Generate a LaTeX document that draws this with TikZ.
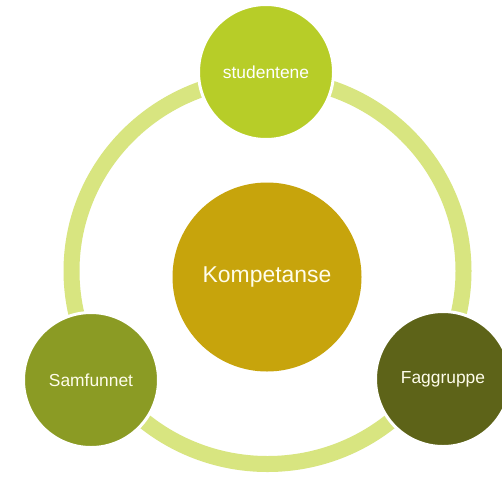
\documentclass[tikz,border=0pt]{standalone}
\usepackage{fontspec}
\setmainfont{Liberation Sans}
\definecolor{ringc}{RGB}{216,229,128}
\definecolor{topc}{RGB}{183,205,40}
\definecolor{midc}{RGB}{199,164,12}
\definecolor{leftc}{RGB}{139,155,36}
\definecolor{rightc}{RGB}{93,99,24}
\definecolor{txtc}{RGB}{255,253,235}
\tikzset{
  outer/.style={circle, draw=white, line width=3pt, minimum size=135pt, inner sep=0pt,
    text=txtc, font=\fontsize{17.4pt}{20pt}\selectfont},
  inner/.style={circle, minimum size=189pt, inner sep=0pt, fill=midc,
    text=txtc, font=\fontsize{22.9pt}{26pt}\selectfont}
}
\begin{document}
\begin{tikzpicture}[x=1pt,y=-1pt]
\useasboundingbox (0,0) rectangle (502,485);
\fill[white] (0,0) rectangle (502,485);
\draw[ringc, line width=16pt] (267.5,271) ellipse [x radius=196pt, y radius=193pt];
\node[inner] (komp) at (267,277) {Kompetanse};
\node[outer, fill=topc, text=white] (stud) at (266,72) {studentene};
\node[outer, fill=leftc] (samf) at (91,380) {Samfunnet};
\node[outer, fill=rightc] (fagg) at (443,379) {Faggruppe};
\end{tikzpicture}
\end{document}
